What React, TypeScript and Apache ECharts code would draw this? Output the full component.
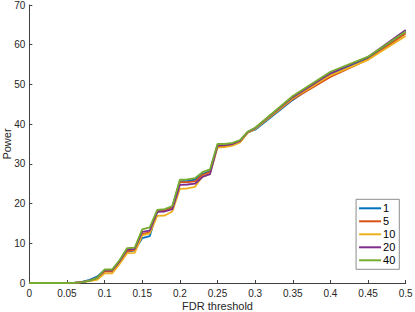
import React, { useEffect, useRef } from "react";
import * as echarts from "echarts";

const xValues = [0, 0.01, 0.02, 0.03, 0.04, 0.05, 0.06, 0.07, 0.08, 0.09, 0.1, 0.11, 0.12, 0.13, 0.14, 0.15, 0.16, 0.17, 0.18, 0.19, 0.2, 0.21, 0.22, 0.23, 0.24, 0.25, 0.26, 0.27, 0.28, 0.29, 0.3, 0.35, 0.4, 0.45, 0.5];

const seriesNames = ["1", "5", "10", "20", "40"];

const s1 = [0, 0, 0, 0, 0, 0, 0.1, 0.3, 0.8, 1.6, 3.2, 3.2, 5.3, 7.9, 8.2, 11.3, 11.8, 18.2, 18.4, 19.2, 25.6, 25.7, 26.0, 27.4, 28.2, 34.8, 34.8, 35.1, 35.8, 37.9, 38.6, 46.1, 52.6, 56.6, 63.3];
const s5 = [0, 0, 0, 0, 0, 0, 0.05, 0.2, 0.6, 1.1, 2.9, 2.9, 5.2, 8.0, 8.3, 12.3, 12.8, 18.0, 18.2, 19.0, 25.4, 25.4, 25.6, 27.2, 27.9, 34.4, 34.4, 34.8, 35.6, 37.9, 38.9, 46.3, 51.9, 56.3, 62.8];
const s10 = [0, 0, 0, 0, 0, 0, 0.05, 0.2, 0.5, 0.8, 2.4, 2.4, 4.8, 7.5, 7.6, 12.0, 12.5, 16.9, 17.0, 18.0, 23.7, 23.8, 24.2, 26.8, 27.5, 34.1, 34.2, 34.6, 35.4, 37.8, 38.8, 46.5, 52.3, 56.2, 62.2];
const s20 = [0, 0, 0, 0, 0, 0, 0.05, 0.2, 0.6, 1.3, 3.2, 3.2, 5.5, 8.5, 8.6, 12.9, 13.2, 17.9, 18.0, 18.6, 24.7, 24.8, 25.0, 26.7, 27.4, 34.6, 34.7, 35.0, 35.8, 38.0, 39.0, 46.8, 52.8, 56.9, 63.7];
const s40 = [0, 0, 0, 0, 0, 0, 0.05, 0.2, 0.6, 1.3, 3.4, 3.4, 5.8, 8.8, 8.9, 13.5, 14.0, 18.4, 18.6, 19.4, 26.0, 26.1, 26.4, 27.9, 28.6, 35.0, 35.0, 35.3, 36.0, 38.1, 39.1, 47.1, 53.2, 57.0, 63.3];

const allSeries = [s1, s5, s10, s20, s40];
const colors = ["#0072BD", "#D95319", "#EDB120", "#7E2F8E", "#77AC30"];

const xTitle = "FDR threshold";
const yTitle = "Power";

const FONT = "'Liberation Sans', Arial, Helvetica, sans-serif";

export default function App() {
  const ref = useRef<HTMLDivElement>(null);
  useEffect(() => {
    if (!ref.current) return;
    const chart = echarts.init(ref.current, null, { renderer: "svg" });
    const axisCommon = {
      axisLine: { show: true, onZero: false, lineStyle: { color: "#404040", width: 1 } },
      axisTick: { show: true, inside: true, length: 3, lineStyle: { color: "#404040", width: 1 } },
      axisLabel: { color: "#262626", fontSize: 10, fontFamily: FONT },
      splitLine: { show: false },
    };
    chart.setOption({
      animation: false,
      color: colors,
      grid: { left: 29.3, right: 9.3, top: 5, bottom: 29, containLabel: false, outerBoundsMode: "none" },
      xAxis: {
        type: "value",
        min: 0,
        max: 0.5,
        interval: 0.05,
        ...axisCommon,
        axisLabel: { ...axisCommon.axisLabel, margin: 5 },
      },
      yAxis: {
        type: "value",
        min: 0,
        max: 70,
        interval: 10,
        ...axisCommon,
        axisLabel: { ...axisCommon.axisLabel, margin: 4 },
      },
      graphic: [
        {
          type: "text",
          x: 217.5,
          y: 305.5,
          style: { text: xTitle, align: "center", verticalAlign: "middle", fill: "#262626", font: `11px ${FONT}` },
        },
        {
          type: "text",
          x: 6.5,
          y: 144,
          rotation: Math.PI / 2,
          style: { text: yTitle, align: "center", verticalAlign: "middle", fill: "#262626", font: `11px ${FONT}` },
        },
      ],
      legend: {
        orient: "vertical",
        right: 15.7,
        bottom: 42.7,
        icon: "rect",
        itemWidth: 22,
        itemHeight: 2,
        itemGap: 1,
        padding: [3, 4, 3, 3],
        borderColor: "#8c8c8c",
        borderWidth: 1,
        backgroundColor: "#fff",
        textStyle: { color: "#000", fontSize: 11, fontFamily: FONT, lineHeight: 12, padding: [0, 0, 0, -3] },
        data: seriesNames,
      },
      series: allSeries.map((vals, i) => ({
        name: seriesNames[i],
        type: "line",
        data: xValues.map((x, j) => [x, vals[j]]),
        showSymbol: false,
        symbol: "none",
        lineStyle: { width: 1.8, color: colors[i] },
        itemStyle: { color: colors[i] },
      })),
    });
    return () => chart.dispose();
  }, []);
  return (
    <div
      ref={ref}
      style={{ position: "fixed", left: 0, top: 0, width: 415, height: 312, background: "#fff" }}
    />
  );
}
